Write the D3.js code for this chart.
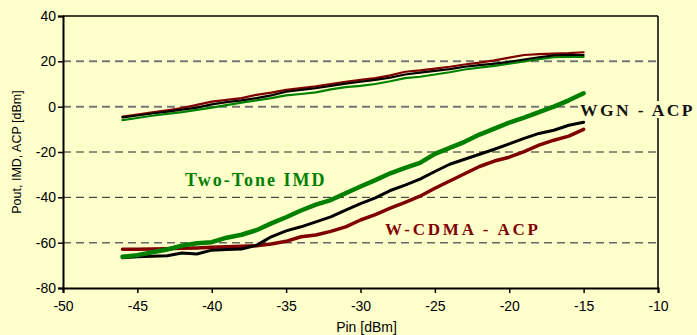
<!DOCTYPE html>
<meta charset="utf-8">
<head>
<title>Pout, IMD, ACP vs Pin</title>
<style>
  body { margin: 0; background: #ffffcc; }
  svg { display: block; }
  .tick text { font: 14px "Liberation Sans", Arial, sans-serif; fill: #000; }
  .lbl { font-family: "Liberation Serif", "Times New Roman", serif; font-weight: bold; }
</style>
</head>
<body>
<svg width="697" height="335"></svg>
<script src="https://cdn.jsdelivr.net/npm/d3@7/dist/d3.min.js"></script>
<script>

// input power, dBm
var pin = d3.range(-46, -14, 1);

// output power curves (upper group)
var poutRed   = [-4.4, -3.5, -2.5, -1.6, -0.6, 0.8, 2.2, 3.0, 3.8, 5.2, 6.2, 7.4, 8.2, 9.0, 10.0, 11.0,
                 11.8, 12.6, 13.8, 15.4, 16.0, 16.8, 17.6, 18.6, 19.4, 20.4, 21.6, 22.8, 23.2, 23.4, 23.6, 24.0];
var poutBlack = [-4.7, -3.9, -3.0, -2.2, -1.3, -0.4, 1.0, 2.0, 2.8, 3.8, 5.0, 6.6, 7.4, 8.2, 9.2, 10.2,
                 11.0, 11.8, 12.8, 14.2, 15.0, 15.8, 16.6, 17.6, 18.3, 19.0, 19.8, 20.8, 21.8, 22.6, 22.9, 22.8];
var poutGreen = [-5.9, -5.0, -4.0, -3.2, -2.4, -1.4, -0.4, 0.7, 1.8, 2.8, 3.8, 5.0, 5.6, 6.3, 7.6, 8.6,
                 9.2, 10.0, 11.2, 12.6, 13.2, 14.2, 15.2, 16.4, 17.2, 18.0, 19.0, 20.0, 21.0, 21.8, 22.0, 22.0];

// distortion curves (lower group)
var imdTwoTone = [-66.2, -65.5, -64.2, -63.0, -61.3, -60.3, -59.8, -57.8, -56.5, -54.5, -51.5, -48.8, -45.8, -43.2, -41.2, -38.2,
                  -35.2, -32.4, -29.4, -27.0, -24.8, -20.8, -18.2, -15.5, -12.3, -9.7, -7.0, -4.8, -2.4, 0.0, 2.8, 5.9];
var acpWgn     = [-66.7, -66.2, -66.0, -65.8, -64.6, -65.0, -63.3, -63.0, -62.8, -61.2, -57.4, -54.8, -53.0, -50.8, -48.6, -45.6,
                  -42.8, -40.2, -37.0, -34.6, -32.0, -28.6, -25.4, -23.2, -21.0, -18.8, -16.4, -14.0, -11.8, -10.4, -8.2, -6.9];
var acpWcdma   = [-62.9, -62.9, -62.8, -62.7, -62.5, -62.3, -62.0, -61.8, -61.6, -61.4, -60.6, -59.4, -57.4, -56.6, -55.0, -53.0,
                  -50.0, -47.6, -44.8, -42.2, -39.5, -36.0, -32.8, -29.6, -26.4, -24.0, -22.3, -19.8, -17.0, -14.8, -13.0, -10.0];

var xTicks = [-50, -45, -40, -35, -30, -25, -20, -15, -10];
var yTicks = [40, 20, 0, -20, -40, -60, -80];

var svg = d3.select("svg");
// plot box (don't use "top" - it's window.top)
var pLeft = 63, pRight = 658, pTop = 16, pBottom = 288;

var x = d3.scaleLinear().domain([-50, -10]).range([pLeft, pRight]);
var y = d3.scaleLinear().domain([-80, 40]).range([pBottom, pTop]);

// plain hyphen for negatives, like the original
var fmt = function(d) { return String(d); };

// dashed grid lines
var grid = [
  { v: 20, c: "#777", w: 2 },
  { v: 0, c: "#777", w: 2 },
  { v: -20, c: "#222", w: 1 },
  { v: -40, c: "#222", w: 1 },
  { v: -60, c: "#666", w: 1.5 }
];
svg.selectAll(".grid").data(grid).enter().append("line")
  .attr("x1", pLeft).attr("x2", pRight)
  .attr("y1", function(d) { return y(d.v); })
  .attr("y2", function(d) { return y(d.v); })
  .attr("stroke", function(d) { return d.c; })
  .attr("stroke-width", function(d) { return d.w; })
  .attr("stroke-dasharray", "8,5");

// frame: top + right
svg.append("line").attr("x1", pLeft).attr("x2", pRight).attr("y1", pTop).attr("y2", pTop)
  .attr("stroke", "#000").attr("stroke-width", 1.5);
svg.append("line").attr("x1", pRight).attr("x2", pRight).attr("y1", pTop).attr("y2", pBottom)
  .attr("stroke", "#000").attr("stroke-width", 1.5);

// axes
var xAxis = svg.append("g").attr("transform", "translate(0," + pBottom + ")")
  .call(d3.axisBottom(x).tickValues(xTicks).tickSize(5).tickPadding(8).tickFormat(fmt));
var yAxis = svg.append("g").attr("transform", "translate(" + pLeft + ",0)")
  .call(d3.axisLeft(y).tickValues(yTicks).tickSize(5).tickPadding(2).tickFormat(fmt));
[xAxis, yAxis].forEach(function(a) {
  a.select(".domain").attr("stroke", "#000").attr("stroke-width", 2);
  a.selectAll(".tick line").attr("stroke", "#000").attr("stroke-width", 1.5);
});

// series
var line = d3.line()
  .x(function(d) { return x(d[0]); })
  .y(function(d) { return y(d[1]); });

var series = [
  { v: poutRed, c: "#800000", w: 2.2 },
  { v: poutGreen, c: "#008000", w: 2.2 },
  { v: poutBlack, c: "#000", w: 2.2 },
  { v: acpWcdma, c: "#800000", w: 3.5 },
  { v: acpWgn, c: "#000", w: 3 },
  { v: imdTwoTone, c: "#008000", w: 4.5 }
];
svg.selectAll(".series").data(series).enter().append("path")
  .attr("d", function(s) { return line(pin.map(function(p, i) { return [p, s.v[i]]; })); })
  .attr("fill", "none")
  .attr("stroke", function(s) { return s.c; })
  .attr("stroke-width", function(s) { return s.w; })
  .attr("stroke-linejoin", "round")
  .attr("stroke-linecap", "round");

// curve labels
svg.append("text").attr("class", "lbl")
  .attr("x", 185).attr("y", 186)
  .attr("font-size", 18).attr("letter-spacing", 2)
  .attr("fill", "#008000")
  .text("Two-Tone IMD");

svg.append("text").attr("class", "lbl")
  .attr("x", 385).attr("y", 235)
  .attr("font-size", 17).attr("letter-spacing", 2.8)
  .attr("fill", "#800000")
  .text("W-CDMA - ACP");

svg.append("rect").attr("x", 579).attr("y", 101).attr("width", 118).attr("height", 17)
  .attr("fill", "#ffffcc");
svg.append("text").attr("class", "lbl")
  .attr("x", 580).attr("y", 116)
  .attr("font-size", 17.5).attr("letter-spacing", 2.4)
  .attr("fill", "#111")
  .text("WGN - ACP");

// axis titles
svg.append("text")
  .attr("x", (pLeft + pRight) / 2 + 6).attr("y", 332)
  .attr("text-anchor", "middle")
  .attr("font-family", "Liberation Sans, Arial, sans-serif").attr("font-size", 14)
  .text("Pin [dBm]");

svg.append("text")
  .attr("transform", "translate(21," + (pTop + pBottom) / 2 + ") rotate(-90)")
  .attr("text-anchor", "middle")
  .attr("font-family", "Liberation Sans, Arial, sans-serif").attr("font-size", 12.5)
  .text("Pout, IMD, ACP [dBm]");

</script>
</body>
</html>
